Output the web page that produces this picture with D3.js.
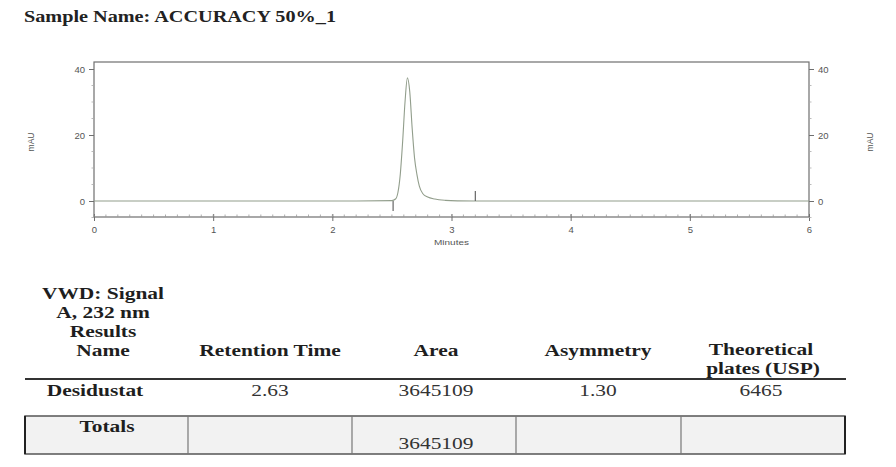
<!DOCTYPE html>
<html><head><meta charset="utf-8">
<script src="https://cdn.jsdelivr.net/npm/d3@7"></script>
<style>body{margin:0;background:#fff}svg{display:block}</style>
</head><body><svg id="c" width="896" height="467"></svg>
<script>
// ---- data ----
const sampleName = "Sample Name: ACCURACY 50%_1";
const timeMin = [0, 2.20, 2.50, 2.53, 2.55, 2.57, 2.59, 2.61, 2.63, 2.65, 2.67, 2.69, 2.71, 2.73, 2.76, 2.80, 2.86, 2.95, 3.05, 3.20, 6.0];
const signalMAU = [0, 0, 0.1, 0.6, 2.5, 8, 18, 30, 37.3, 33, 22, 13, 8, 4.5, 2.2, 1.2, 0.6, 0.2, 0.05, 0, 0];
const peakMarkers = [{t: 2.51, dir: -1}, {t: 3.20, dir: 1}];
const xTicks = [0, 1, 2, 3, 4, 5, 6];
const yTicks = [0, 20, 40];
const headerCols = [["VWD: Signal", "A, 232 nm", "Results", "Name"], ["Retention Time"], ["Area"], ["Asymmetry"], ["Theoretical", "plates (USP)"]];
const rowValues = ["Desidustat", "2.63", "3645109", "1.30", "6465"];
const totalsValues = ["Totals", "", "3645109", "", ""];

// ---- layout ----
const svg = d3.select("#c");
const L = 94, R = 809, T = 62, B = 217;
const x = d3.scaleLinear().domain([0, 6]).range([L, R]);
const y = d3.scaleLinear().domain([0, 40]).range([201, 69]);
const axisCol = "#6f6f6f", tickTxt = "#555";
const serif = "Liberation Serif";

function stext(px, py, str, o) {
  return svg.append("text")
    .attr("transform", `translate(${px},${py}) scale(${o.sx || 1},1)`)
    .attr("text-anchor", o.anchor || "middle")
    .attr("font-family", o.family || serif)
    .attr("font-weight", o.bold ? "bold" : "normal")
    .attr("font-size", o.size || 16.5)
    .attr("fill", o.fill || "#1e1e1e").text(str);
}

stext(24, 22, sampleName, {anchor: "start", bold: true, size: 17, sx: 1.19, fill: "#222"});

const g = svg.append("g");
g.append("rect").attr("x", L).attr("y", T).attr("width", R - L).attr("height", B - T)
  .attr("fill", "none").attr("stroke", axisCol).attr("stroke-width", 1.2);

// x axis
const xAx = d3.axisBottom(x).tickValues(xTicks).tickSize(4).tickFormat(d3.format("d"));
const xg = g.append("g").attr("transform", `translate(0,${B})`).call(xAx);
xg.select(".domain").remove();
xg.selectAll("line").attr("stroke", axisCol).attr("y1", -3);
xg.selectAll("text").attr("fill", tickTxt).attr("font-family", "Liberation Sans").attr("font-size", 9.5).attr("dy", "0.9em");
g.selectAll(".xminor").data(d3.range(0, 60).map(i => i / 10)).join("line")
  .attr("x1", d => x(d)).attr("x2", d => x(d)).attr("y1", B).attr("y2", B - 2.5)
  .attr("stroke", "#999").attr("stroke-width", 0.8);
stext(x(3), 245, "Minutes", {family: "Liberation Sans", size: 8, sx: 1.25, fill: tickTxt});

// y axes
function yAxis(axisFn, xpos, dir) {
  const ag = g.append("g").attr("transform", `translate(${xpos},0)`)
    .call(axisFn(y).tickValues(yTicks).tickSize(5).tickPadding(4));
  ag.select(".domain").remove();
  ag.selectAll("line").attr("stroke", axisCol);
  ag.selectAll("text").attr("fill", tickTxt).attr("font-family", "Liberation Sans").attr("font-size", 9.5);
  g.selectAll(null).data(d3.range(-5, 45, 5).filter(v => v % 20 !== 0)).join("line")
    .attr("x1", xpos).attr("x2", xpos + dir * 2.5).attr("y1", d => y(d)).attr("y2", d => y(d))
    .attr("stroke", "#aaa").attr("stroke-width", 0.8);
}
yAxis(d3.axisLeft, L, -1);
yAxis(d3.axisRight, R, 1);
[[34, 142], [873, 142]].forEach(([px, py]) => {
  svg.append("text").attr("transform", `translate(${px},${py}) rotate(-90)`).attr("text-anchor", "middle")
    .attr("font-family", "Liberation Sans").attr("font-size", 8.5).attr("fill", tickTxt).text("mAU");
});

// signal
const pts = timeMin.map((t, i) => [t, signalMAU[i]]);
g.append("path").datum(pts)
  .attr("d", d3.line().x(d => x(d[0])).y(d => y(d[1])).curve(d3.curveMonotoneX))
  .attr("fill", "none").attr("stroke", "#929e8c").attr("stroke-width", 1.1);
g.selectAll(".mk").data(peakMarkers).join("line")
  .attr("x1", d => x(d.t)).attr("x2", d => x(d.t))
  .attr("y1", y(0)).attr("y2", d => y(0) - d.dir * 10)
  .attr("stroke", "#666").attr("stroke-width", 1.2);

// ---- table ----
const colCenters = [103, 270, 436, 598, 761];
const SX = 1.3;
headerCols.forEach((lines, ci) => {
  const lh = 19;
  const lastY = ci === 4 ? 374 : 356;
  lines.forEach((s, li) => {
    stext(colCenters[ci] + (ci === 4 && li === 1 ? 2 : 0), lastY - (lines.length - 1 - li) * lh, s,
      {bold: true, sx: SX});
  });
});
svg.append("line").attr("x1", 25).attr("x2", 846).attr("y1", 379).attr("y2", 379)
  .attr("stroke", "#333").attr("stroke-width", 2.2);
rowValues.forEach((s, ci) => {
  stext(ci === 0 ? 95 : colCenters[ci], 396, s, {bold: ci === 0, sx: SX, fill: ci === 0 ? "#1e1e1e" : "#333"});
});
const edges = [25, 188, 352, 516, 681, 845];
svg.append("rect").attr("x", 25).attr("y", 416).attr("width", 820).attr("height", 38)
  .attr("fill", "#f2f2f2").attr("stroke", "#555").attr("stroke-width", 1.5);
svg.selectAll(".div").data(edges.slice(1, -1)).join("line")
  .attr("x1", d => d).attr("x2", d => d).attr("y1", 416).attr("y2", 454)
  .attr("stroke", "#777").attr("stroke-width", 1.2);
svg.selectAll(".edge").data([edges[0], edges[edges.length - 1]]).join("line")
  .attr("x1", d => d).attr("x2", d => d).attr("y1", 416).attr("y2", 454)
  .attr("stroke", "#222").attr("stroke-width", 2);
totalsValues.forEach((s, ci) => {
  if (!s) return;
  stext(ci === 0 ? 107 : colCenters[ci], ci === 0 ? 432 : 449, s, {bold: ci === 0, sx: SX, fill: ci === 0 ? "#1e1e1e" : "#333"});
});
</script></body></html>
